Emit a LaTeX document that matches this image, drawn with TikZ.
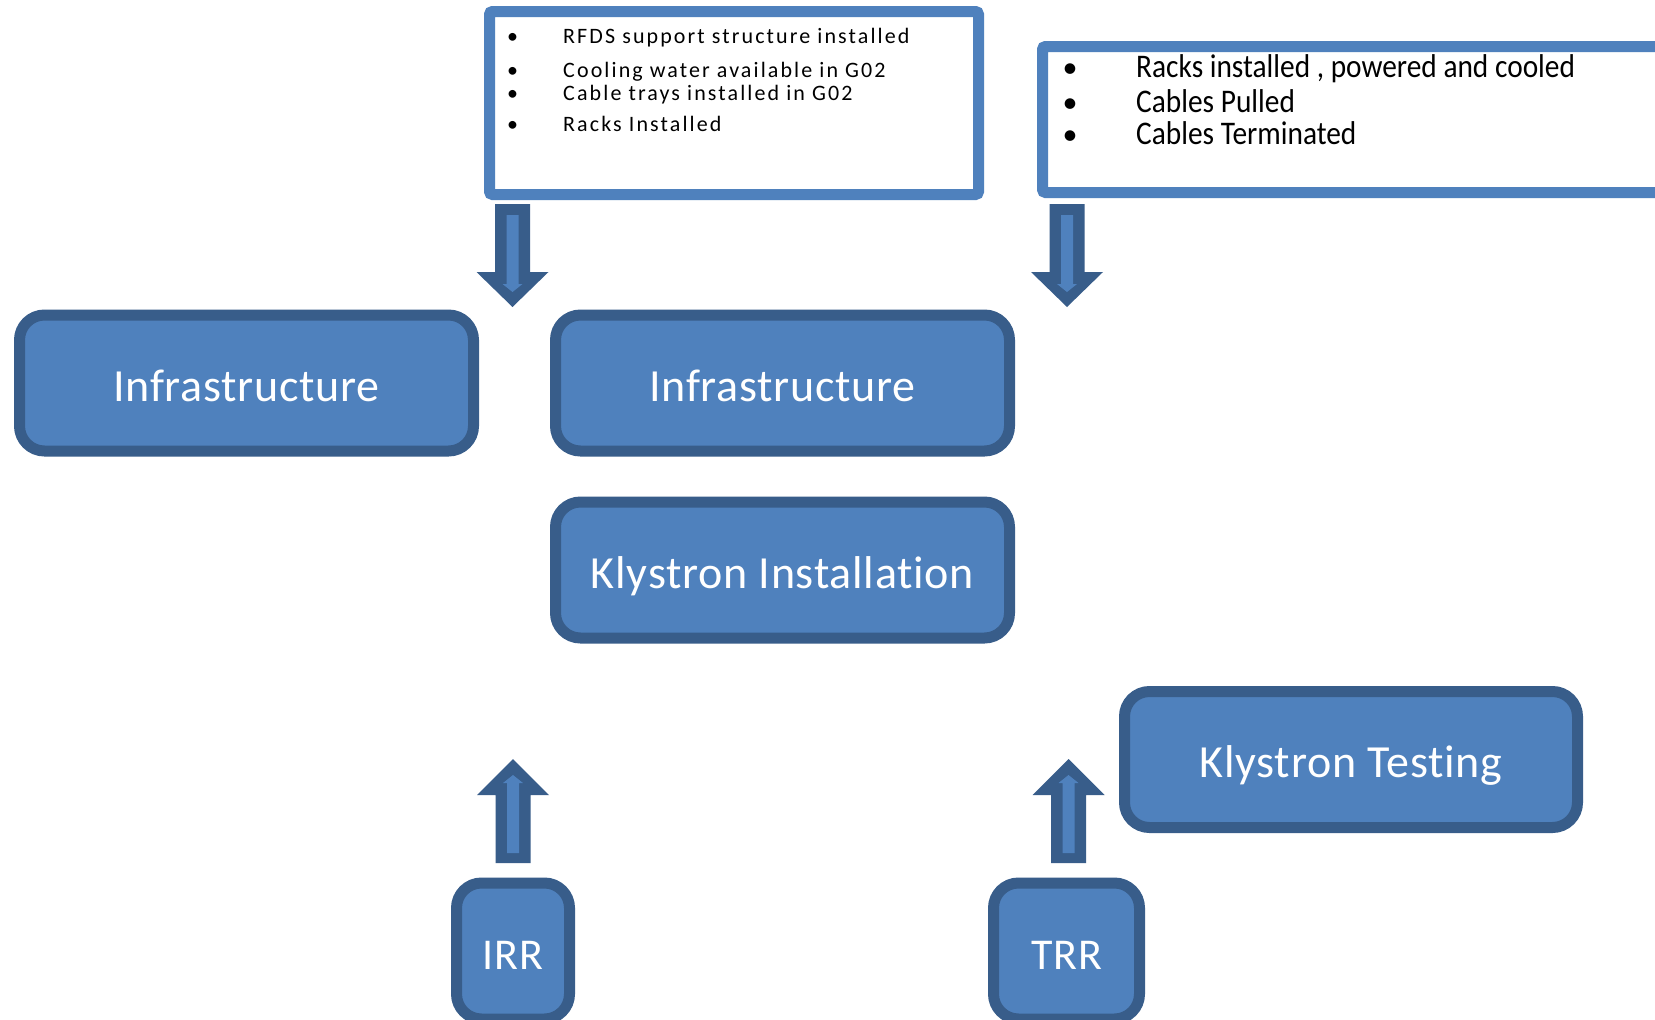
\documentclass[tikz,border=0pt]{standalone}
\usepackage{fontspec}
\setmainfont[Ligatures=NoCommon]{Carlito}
\newfontfamily\spacedfont[LetterSpace=9.6,Ligatures=NoCommon]{Carlito}
\newfontfamily\narrowfont[FakeStretch=0.89,Ligatures=NoCommon]{Carlito}
\newfontfamily\boxfont[LetterSpace=1.6,Ligatures=NoCommon]{Carlito}
\newfontfamily\smallboxfont[LetterSpace=2,Ligatures=NoCommon]{Carlito}
\definecolor{boxfill}{HTML}{4F81BD}
\definecolor{boxline}{HTML}{385D8A}
\tikzset{
  blk/.style={draw=boxline, fill=boxfill, line width=11pt, rounded corners=25pt,
    minimum height=136pt, inner sep=0pt, text=white,
    font=\boxfont\fontsize{46}{50}\selectfont, text height=36pt, text depth=0pt},
  smallblk/.style={blk, font=\smallboxfont\fontsize{44}{48}\selectfont},
  textframe/.style={draw=boxfill, fill=white, line width=11pt, rounded corners=3pt, inner sep=0pt},
  tlline/.style={anchor=base west, inner sep=0pt, font=\spacedfont\fontsize{22}{26}\selectfont, text=black},
  tlbullet/.style={anchor=base, inner sep=0pt, font=\fontsize{22}{26}\selectfont, text=black},
  trline/.style={anchor=base west, inner sep=0pt, font=\narrowfont\fontsize{33}{40}\selectfont, text=black},
  trbullet/.style={anchor=base, inner sep=0pt, font=\fontsize{30}{36}\selectfont, text=black},
  downarr/.pic={
    \fill[boxline] (-17.5,0) -- (17.5,0) -- (17.5,68) -- (36,68) -- (0,103) -- (-36,68) -- (-17.5,68) -- cycle;
    \fill[boxfill] (-6,11) -- (6,11) -- (6,80) -- (10,80) -- (0,88) -- (-10,80) -- (-6,80) -- cycle;
  },
  uparr/.pic={
    \fill[boxline] (-17.5,0) -- (17.5,0) -- (17.5,-68) -- (36,-68) -- (0,-104) -- (-36,-68) -- (-17.5,-68) -- cycle;
    \fill[boxfill] (-6,-10) -- (6,-10) -- (6,-80) -- (10,-80) -- (0,-88) -- (-10,-80) -- (-6,-80) -- cycle;
  }
}
\begin{document}
\begin{tikzpicture}[x=1pt,y=-1pt]
\useasboundingbox (0,0) rectangle (1655,1020);
\fill[white] (0,0) rectangle (1655,1020);

% top text frames
\node[textframe, minimum width=489pt, minimum height=183pt] (boxTL) at (734,103) {};
\node[textframe, minimum width=680pt, minimum height=146pt] (boxTR) at (1382.5,119.5) {};

% top-left list
\node[tlbullet] (tlb1) at (512.5,43.3) {\textbullet};
\node[tlline] (tl1) at (563,43.3) {RFDS support structure installed};
\node[tlbullet] (tlb2) at (512.5,77.7) {\textbullet};
\node[tlline] (tl2) at (563,77.7) {Cooling water available in G02};
\node[tlbullet] (tlb3) at (512.5,100) {\textbullet};
\node[tlline] (tl3) at (563,100) {Cable trays installed in G02};
\node[tlbullet] (tlb4) at (512.5,131.7) {\textbullet};
\node[tlline] (tl4) at (563,131.7) {Racks Installed};

% top-right list
\node[trbullet] (trb1) at (1070,77) {\textbullet};
\node[trline] (tr1) at (1136,77) {Racks installed , powered and cooled};
\node[trbullet] (trb2) at (1070,112) {\textbullet};
\node[trline] (tr2) at (1136,112) {Cables Pulled};
\node[trbullet] (trb3) at (1070,144) {\textbullet};
\node[trline] (tr3) at (1136,144) {Cables Terminated};

% process boxes
\node[blk, minimum width=454pt] (infra1) at (246.5,383) {Infrastructure};
\node[blk, minimum width=454pt] (infra2) at (782.5,383) {Infrastructure};
\node[blk, minimum width=454pt] (klyinst) at (782.5,570) {Klystron Installation};
\node[blk, minimum width=453pt] (klytest) at (1351,759.5) {Klystron Testing};
\node[smallblk, minimum width=113pt] (irr) at (513,951) {IRR};
\node[smallblk, minimum width=146pt] (trr) at (1066.5,951) {TRR};

% block arrows
\coordinate (dA) at (512.5,204);
\coordinate (dB) at (1067,204);
\coordinate (uA) at (513,863);
\coordinate (uB) at (1068.5,863);
\pic at (dA) {downarr};
\pic at (dB) {downarr};
\pic at (uA) {uparr};
\pic at (uB) {uparr};
\end{tikzpicture}
\end{document}
